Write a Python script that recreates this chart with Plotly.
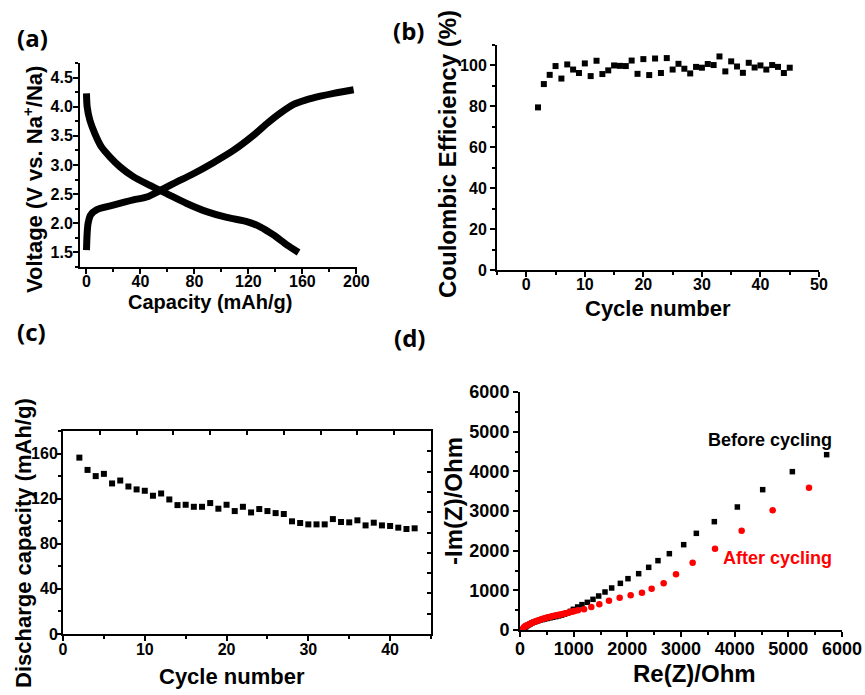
import plotly.graph_objects as go

W, H = 865, 695

# ---------------- data ----------------
# (a) charge / discharge profiles
charge_cap = [0, 0.5, 1.2, 3, 7.4, 19.8, 34.7, 44.6, 54.5, 64.4, 79.2, 94, 108.9, 123.8, 133.7, 143.6, 153.5, 163.4, 173.3, 183.2, 198]
charge_v = [1.54, 1.83, 2.0, 2.14, 2.23, 2.31, 2.40, 2.45, 2.56, 2.68, 2.85, 3.04, 3.25, 3.51, 3.71, 3.89, 4.04, 4.12, 4.18, 4.23, 4.29]
dis_cap = [0, 0.5, 2.5, 6.2, 11.1, 17.3, 24.8, 34.7, 47, 59.4, 74.3, 89.1, 104, 118.8, 128.7, 138.6, 148.5, 157.2]
dis_v = [4.23, 4.0, 3.77, 3.54, 3.31, 3.14, 2.97, 2.80, 2.65, 2.51, 2.34, 2.20, 2.10, 2.03, 1.94, 1.80, 1.63, 1.50]

# (b) coulombic efficiency
ce_cycle = list(range(2, 46))
ce_val = [79.5, 90.9, 95.4, 99.7, 93.6, 100.5, 98.0, 96.3, 101.0, 94.8, 102.3, 95.8, 97.6, 100.0,
          99.8, 99.7, 102.4, 95.9, 103.1, 95.3, 103.4, 96.3, 103.6, 98.0, 100.8, 98.4, 96.1, 99.3,
          98.9, 100.7, 100.2, 104.4, 97.1, 102.0, 99.5, 96.4, 101.3, 99.0, 100.0, 98.0, 100.2, 99.3,
          96.3, 98.9]

# (c) discharge capacity
dc_cycle = list(range(2, 44))
dc_val = [156.4, 145.5, 140.0, 142.0, 133.5, 136.1, 130.8, 128.2, 127.0, 122.6, 124.6, 119.3,
          114.3, 114.6, 112.8, 112.8, 116.1, 111.1, 114.6, 109.0, 112.8, 107.8, 110.8, 109.0,
          107.2, 106.4, 99.9, 98.4, 97.2, 97.2, 97.2, 101.9, 99.3, 99.0, 100.8, 96.3, 98.7,
          96.3, 95.8, 94.3, 93.1, 93.7]

# (d) EIS
before_re = [50, 70, 90, 110, 135, 160, 190, 220, 255, 290, 330, 370, 415, 460, 510, 560, 610, 665,
             720, 775, 830, 885, 940, 994, 1075, 1155, 1255, 1360, 1466, 1584, 1708, 1870, 2012,
             2211, 2398, 2571, 2783, 3050, 3286, 3621, 4050, 4522, 5075, 5714]
before_im = [0, 30, 60, 85, 110, 130, 155, 175, 195, 212, 230, 247, 262, 277, 292, 307, 322, 337,
             355, 375, 400, 430, 470, 521, 580, 639, 697, 773, 857, 958, 1059, 1176, 1294, 1420,
             1580, 1748, 1924, 2151, 2437, 2731, 3101, 3538, 3992, 4420]
after_re = [37, 55, 75, 95, 120, 149, 180, 210, 240, 273, 305, 335, 365, 398, 430, 460, 490, 522,
            555, 585, 615, 646, 680, 710, 740, 770, 800, 830, 860, 894, 925, 955, 985, 1019, 1080,
            1193, 1329, 1478, 1658, 1857, 2062, 2273, 2453, 2677, 2907, 3217, 3634, 4130, 4708, 5385]
after_im = [0, 40, 70, 95, 112, 126, 150, 170, 190, 210, 225, 240, 255, 269, 282, 295, 307, 319,
            330, 340, 350, 361, 370, 378, 387, 395, 405, 415, 425, 437, 448, 458, 468, 480, 495,
            520, 580, 652, 735, 815, 878, 941, 1042, 1176, 1408, 1697, 2050, 2504, 3017, 3588]

# ---------------- helpers ----------------
def fx(p):
    return p / W

def fy(p):
    return 1 - p / H

FONT = "Liberation Sans"

fig = go.Figure()

fig.add_trace(go.Scatter(x=charge_cap, y=charge_v, mode="lines",
                         line=dict(color="black", width=7, shape="spline", smoothing=0.8),
                         xaxis="x", yaxis="y", showlegend=False))
fig.add_trace(go.Scatter(x=dis_cap, y=dis_v, mode="lines",
                         line=dict(color="black", width=7, shape="spline", smoothing=0.8),
                         xaxis="x", yaxis="y", showlegend=False))
fig.add_trace(go.Scatter(x=ce_cycle, y=ce_val, mode="markers",
                         marker=dict(symbol="square", size=6, color="black"),
                         xaxis="x2", yaxis="y2", showlegend=False))
fig.add_trace(go.Scatter(x=dc_cycle, y=dc_val, mode="markers",
                         marker=dict(symbol="square", size=6, color="black"),
                         xaxis="x3", yaxis="y3", showlegend=False))
fig.add_trace(go.Scatter(x=[None], y=[None], mode="markers", xaxis="x5", yaxis="y5",
                         showlegend=False))
fig.add_trace(go.Scatter(x=before_re, y=before_im, mode="markers",
                         marker=dict(symbol="square", size=5.5, color="black"),
                         xaxis="x4", yaxis="y4", showlegend=False))
fig.add_trace(go.Scatter(x=after_re, y=after_im, mode="markers",
                         marker=dict(symbol="circle", size=6.5, color="#ff0000"),
                         xaxis="x4", yaxis="y4", showlegend=False))


def ax(domain, rng, dtick, minor_dtick, anchor, size=16, **kw):
    d = dict(domain=domain, range=rng, dtick=dtick, tick0=0, anchor=anchor, automargin=False,
             showgrid=False, zeroline=False, showline=True, linecolor="black", linewidth=2,
             ticks="outside", ticklen=5, tickwidth=2, tickcolor="black",
             tickfont=dict(family=FONT, size=size, color="black", weight="bold"),
             minor=dict(dtick=minor_dtick, tick0=0, ticks="outside", ticklen=3, tickwidth=1.5,
                        tickcolor="black", showgrid=False))
    d.update(kw)
    return d


layout = dict(
    template="none",
    width=W, height=H, margin=dict(l=0, r=0, t=0, b=0, pad=0),
    paper_bgcolor="white", plot_bgcolor="white", showlegend=False,
    xaxis=ax([fx(80), fx(357)], [-4.8, 200.5], 40, 20, "y", ticklabelstandoff=-6),
    yaxis=ax([fy(267), fy(63)], [1.25, 4.75], 0.5, 0.25, "x", tickformat=".1f",
             ticklabelstandoff=-3),
    xaxis2=ax([fx(497), fx(819)], [-5, 50], 10, 5, "y2", ticklabelstandoff=-6),
    yaxis2=ax([fy(270), fy(45)], [0, 110], 20, 10, "x2"),
    xaxis3=ax([fx(63), fx(431)], [0, 45], 10, 5, "y3", ticklabelstandoff=-5),
    yaxis3=ax([fy(634), fy(431)], [0, 180], 40, 20, "x3", ticklabelstandoff=-5),
    xaxis4=ax([fx(520), fx(842)], [0, 6000], 1000, 500, "y4", size=18, ticklabelstandoff=-4),
    yaxis4=ax([fy(630), fy(392)], [0, 6000], 1000, 500, "x4", size=18),
    xaxis5=dict(overlaying="x3", anchor="y3", side="top", range=[0, 1], dtick=0.1, tick0=0,
                showline=True, linecolor="black", linewidth=2, ticks="inside", ticklen=4,
                tickwidth=1.5, tickcolor="black", showticklabels=False, showgrid=False,
                zeroline=False, automargin=False),
    yaxis5=dict(overlaying="y3", anchor="x3", side="right", range=[0, 1], dtick=0.1, tick0=0,
                showline=True, linecolor="black", linewidth=2, ticks="inside", ticklen=4,
                tickwidth=1.5, tickcolor="black", showticklabels=False, showgrid=False,
                zeroline=False, automargin=False),
)
fig.update_layout(**layout)


def note(text, x, y, size, angle=0, color="black", family=FONT):
    fig.add_annotation(text=text, x=fx(x), y=fy(y), xref="paper", yref="paper",
                       showarrow=False, textangle=angle, xanchor="center", yanchor="middle",
                       font=dict(family=family, size=size, color=color, weight="bold"))


# panel labels
for t, x, y in [("(a)", 32, 37), ("(b)", 408, 31), ("(c)", 31, 331), ("(d)", 409, 337)]:
    note(t, x, y, 24, family="Open Sans")

# axis titles
note("Capacity (mAh/g)", 210, 302, 20)
note("Voltage (V vs. Na<sup>+</sup>/Na)", 33, 180, 22, angle=-90)
note("Cycle number", 658, 308, 22)
note("Coulombic Efficiency (%)", 447, 154, 24, angle=-90)
note("Cycle number", 232, 676, 22)
note("Discharge capacity (mAh/g)", 23, 543, 22, angle=-90)
note("Re(Z)/Ohm", 694, 673, 24)
note("-Im(Z)/Ohm", 453, 501, 24, angle=-90)
note("Before cycling", 770, 440, 18)
note("After cycling", 777, 558, 18, color="#ff0000")

# remove the browser's default 8px page margin so the figure fills the window exactly
fig.write_html("out.html", config={"displayModeBar": False},
               post_script="document.body.style.margin='0';")
